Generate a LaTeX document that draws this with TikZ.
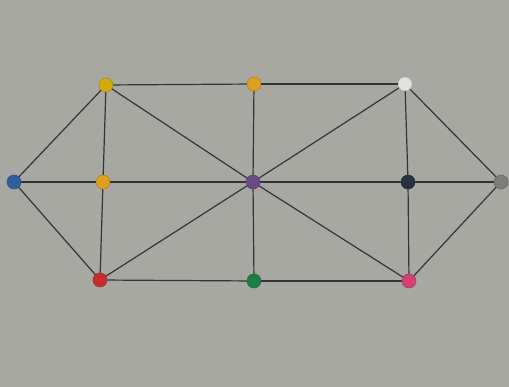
\documentclass[tikz,border=0pt]{standalone}
\usepackage{xcolor}
\usepackage{tikz}
\definecolor{paper}{RGB}{168,168,163}
\definecolor{vblue}{RGB}{45,95,160}
\definecolor{vyellow}{RGB}{212,172,10}
\definecolor{vorange}{RGB}{222,160,30}
\definecolor{vred}{RGB}{200,45,45}
\definecolor{vpurple}{RGB}{105,75,135}
\definecolor{vgreen}{RGB}{30,125,65}
\definecolor{vwhite}{RGB}{225,225,222}
\definecolor{vblack}{RGB}{40,50,60}
\definecolor{vpink}{RGB}{210,65,115}
\definecolor{vgrey}{RGB}{125,125,122}
\tikzset{
  vertex/.style={circle, minimum size=14pt, inner sep=0pt, draw=#1!80!black,
    line width=0.5pt, fill=#1},
  edge/.style={line width=1.2pt, draw=black!80}
}

\begin{document}
\begin{tikzpicture}[x=1pt, y=-1pt]
  \useasboundingbox[fill=paper] (0,0) rectangle (509,387);
  \node[vertex=vblue] (blue) at (14,182) {};
  \node[vertex=vyellow] (ytl) at (106,85) {};
  \node[vertex=vorange] (oml) at (103,182) {};
  \node[vertex=vred] (red) at (100,280) {};
  \node[vertex=vorange] (otm) at (254,84) {};
  \node[vertex=vpurple] (mid) at (253,182) {};
  \node[vertex=vgreen] (green) at (254,281) {};
  \node[vertex=vwhite] (wtr) at (405,84) {};
  \node[vertex=vblack] (bmr) at (408,182) {};
  \node[vertex=vpink] (pink) at (409,281) {};
  \node[vertex=vgrey] (grey) at (501,182) {};

  \draw[edge] (blue) -- (ytl);
  \draw[edge] (blue) -- (oml);
  \draw[edge] (blue) -- (red);
  \draw[edge] (ytl) -- (oml);
  \draw[edge] (oml) -- (red);
  \draw[edge] (ytl) -- (otm);
  \draw[edge] (otm) -- (wtr);
  \draw[edge] (red) -- (green);
  \draw[edge] (green) -- (pink);
  \draw[edge] (oml) -- (mid);
  \draw[edge] (mid) -- (bmr);
  \draw[edge] (bmr) -- (grey);
  \draw[edge] (ytl) -- (mid);
  \draw[edge] (red) -- (mid);
  \draw[edge] (wtr) -- (mid);
  \draw[edge] (pink) -- (mid);
  \draw[edge] (otm) -- (mid);
  \draw[edge] (mid) -- (green);
  \draw[edge] (wtr) -- (bmr);
  \draw[edge] (bmr) -- (pink);
  \draw[edge] (wtr) -- (grey);
  \draw[edge] (pink) -- (grey);
\end{tikzpicture}
\end{document}
